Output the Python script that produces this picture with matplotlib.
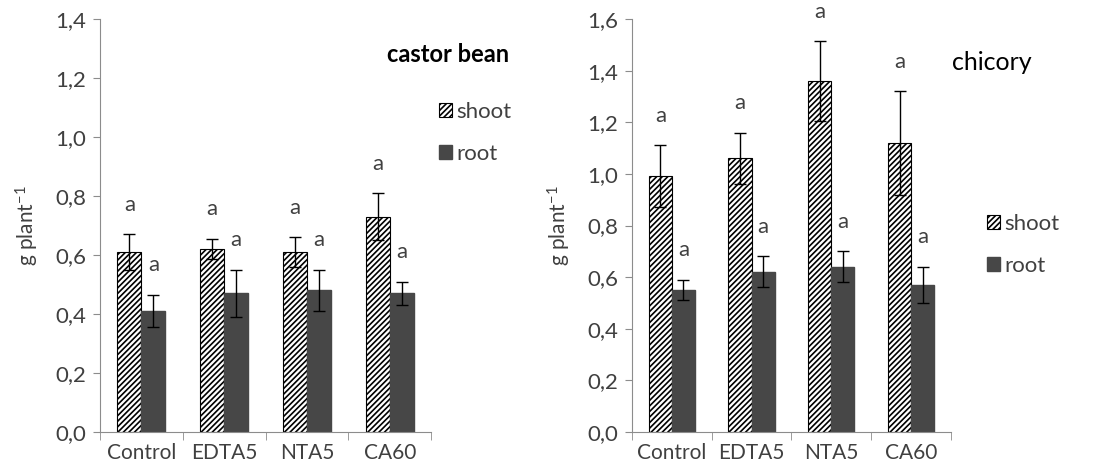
import matplotlib.pyplot as plt
from matplotlib.patches import Patch
import numpy as np

plt.rcParams['font.family'] = ['Lato', 'DejaVu Sans']
plt.rcParams['mathtext.fontset'] = 'custom'
plt.rcParams['mathtext.rm'] = 'Lato'
plt.rcParams['mathtext.it'] = 'Lato'
plt.rcParams['hatch.linewidth'] = 1.2

treatments = ["Control", "EDTA5", "NTA5", "CA60"]

# castor bean
castor_shoot = [0.61, 0.62, 0.61, 0.73]
castor_shoot_err = [0.06, 0.035, 0.05, 0.08]
castor_root = [0.41, 0.47, 0.48, 0.47]
castor_root_err = [0.055, 0.08, 0.07, 0.04]

# chicory
chicory_shoot = [0.99, 1.06, 1.36, 1.12]
chicory_shoot_err = [0.12, 0.10, 0.155, 0.20]
chicory_root = [0.55, 0.62, 0.64, 0.57]
chicory_root_err = [0.04, 0.06, 0.06, 0.07]

letters_shoot = ["a", "a", "a", "a"]
letters_root = ["a", "a", "a", "a"]

txt_col = '#404040'
root_col = '#474747'
spine_col = '#8c8c8c'


def draw_panel(ax, shoot, shoot_err, root, root_err, ymax):
    x = np.arange(len(treatments))
    w = 0.29
    ax.bar(x - w / 2, shoot, w, color='white', edgecolor='black', hatch='//////', linewidth=0.8)
    ax.bar(x + w / 2, root, w, color=root_col, edgecolor=root_col)
    ax.errorbar(x - w / 2, shoot, yerr=shoot_err, fmt='none', ecolor='black', elinewidth=1, capsize=4, capthick=1)
    ax.errorbar(x + w / 2, root, yerr=root_err, fmt='none', ecolor='black', elinewidth=1, capsize=4, capthick=1)
    # significance letters
    for i in range(len(treatments)):
        ax.annotate(letters_shoot[i], (x[i] - w / 2, shoot[i] + shoot_err[i]), xytext=(0, 14),
                    textcoords='offset points', ha='center', va='bottom', fontsize=16, color=txt_col)
        ax.annotate(letters_root[i], (x[i] + w / 2, root[i] + root_err[i]), xytext=(0, 14),
                    textcoords='offset points', ha='center', va='bottom', fontsize=16, color=txt_col)
    ax.set_xlim(-0.5, len(treatments) - 0.5)
    ax.set_ylim(0, ymax)
    ax.set_yticks(np.arange(0, ymax + 0.01, 0.2))
    ax.set_yticklabels([f"{v:.1f}".replace('.', ',') for v in np.arange(0, ymax + 0.01, 0.2)])
    ax.set_xticks(x)
    ax.set_xticklabels(treatments)
    ax.set_xticks(np.arange(-0.5, len(treatments)), minor=True)
    ax.tick_params(axis='x', which='major', length=0, pad=8, labelsize=15, labelcolor=txt_col)
    ax.tick_params(axis='x', which='minor', length=6, color=spine_col, direction='out')
    ax.tick_params(axis='y', length=5, color=spine_col, labelsize=16, labelcolor=txt_col, pad=5)
    for s in ['top', 'right']:
        ax.spines[s].set_visible(False)
    for s in ['left', 'bottom']:
        ax.spines[s].set_color(spine_col)
    ax.set_ylabel("g plant$^{-1}$", fontsize=15, color=txt_col, labelpad=10)


fig = plt.figure(figsize=(10.98, 4.74), dpi=100)
ax1 = fig.add_axes([0.0911, 0.0886, 0.3015, 0.8713])
ax2 = fig.add_axes([0.5756, 0.0886, 0.2905, 0.8713])

draw_panel(ax1, castor_shoot, castor_shoot_err, castor_root, castor_root_err, 1.4)
draw_panel(ax2, chicory_shoot, chicory_shoot_err, chicory_root, chicory_root_err, 1.6)

handles = [Patch(facecolor='white', edgecolor='black', hatch='//////', linewidth=0.8),
           Patch(facecolor=root_col, edgecolor=root_col)]

fig.text(387 / 1098, 1 - 54 / 474, "castor bean", fontsize=17, fontweight='bold', va='center', ha='left', color='black')
fig.text(952 / 1098, 1 - 62 / 474, "chicory", fontsize=18, va='center', ha='left', color='black')

fig.legend(handles, ["shoot", "root"], loc='upper left', bbox_to_anchor=(419 / 1098, 1 - 82 / 474),
           frameon=False, fontsize=16, handlelength=0.6, handleheight=0.6, handletextpad=0.2,
           labelspacing=1.0, labelcolor=txt_col)
fig.legend(handles, ["shoot", "root"], loc='upper left', bbox_to_anchor=(967 / 1098, 1 - 194 / 474),
           frameon=False, fontsize=16, handlelength=0.6, handleheight=0.6, handletextpad=0.2,
           labelspacing=1.0, labelcolor=txt_col)

fig.savefig("out.png", dpi=100)
